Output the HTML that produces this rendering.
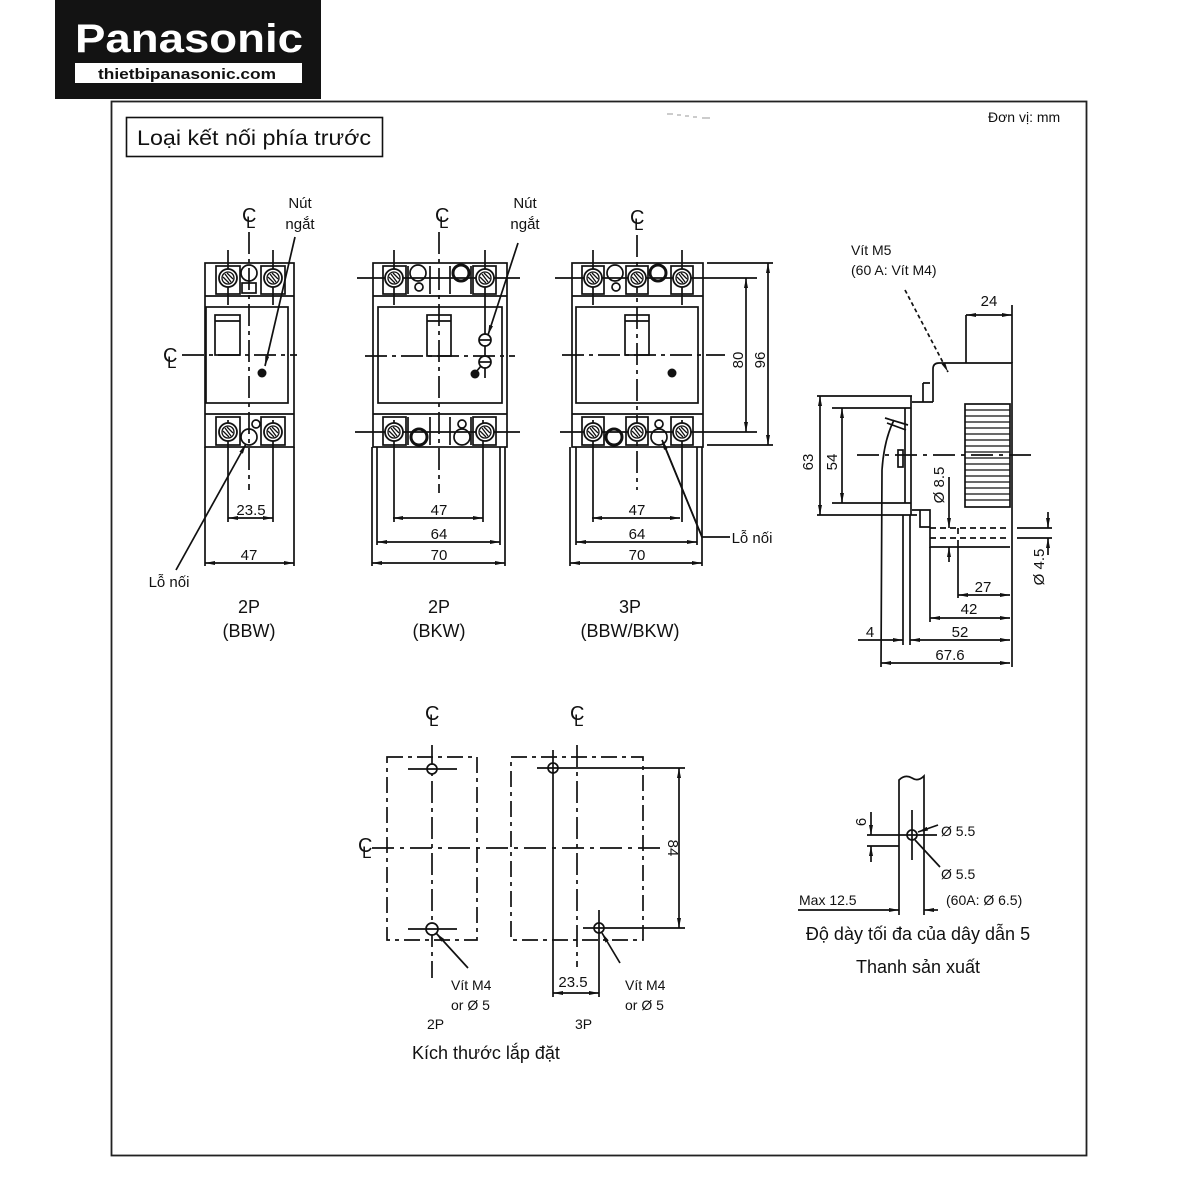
<!DOCTYPE html>
<html><head><meta charset="utf-8"><style>
html,body{margin:0;padding:0;background:#fff;}
svg{display:block;}
text{font-family:"Liberation Sans","DejaVu Sans",sans-serif;fill:#111;}
</style></head><body>
<svg width="1200" height="1200" viewBox="0 0 1200 1200" xmlns="http://www.w3.org/2000/svg">
<defs>
<marker id="a" viewBox="0 0 10 4" refX="10" refY="2" markerWidth="10" markerHeight="4" orient="auto-start-reverse" markerUnits="userSpaceOnUse"><path d="M0,0 L10,2 L0,4z" fill="#111"/></marker>
<g id="scr"><circle r="9" fill="#fff" stroke="#111" stroke-width="1.8"/><circle r="6" fill="none" stroke="#111" stroke-width="1.3"/><path d="M-3,-4 L3,4 M-5,-1 L1,5 M-1,-5 L5,1" stroke="#111" stroke-width="1.3"/></g>
<g id="cl"><text x="-7" y="0" font-size="20">C</text><text x="-3" y="6" font-size="17">L</text></g>
</defs>
<rect width="1200" height="1200" fill="#fff"/>
<!-- frame -->
<rect x="111.5" y="101.5" width="975" height="1054" fill="none" stroke="#222" stroke-width="1.8"/>
<!-- logo -->
<rect x="55" y="0" width="266" height="99" fill="#131313"/>
<text x="75" y="52" font-size="40" font-weight="bold" textLength="228" lengthAdjust="spacingAndGlyphs" style="fill:#fff">Panasonic</text>
<rect x="75" y="63" width="227" height="20" fill="#fff"/>
<text x="98" y="79" font-size="15" font-weight="bold" textLength="178" lengthAdjust="spacingAndGlyphs">thietbipanasonic.com</text>
<!-- title -->
<rect x="126.5" y="117.5" width="256" height="39" fill="none" stroke="#111" stroke-width="1.6"/>
<text x="137" y="145" font-size="21" textLength="234" lengthAdjust="spacingAndGlyphs">Loại kết nối phía trước</text>
<text x="988" y="122" font-size="14">Đơn vị: mm</text>
<path d="M667,114 h6 M677,115 h4 M685,116 h4 M693,117 h4 M702,118 h8" stroke="#999" stroke-width="1"/>

<g stroke="#111" fill="none" stroke-width="1.7">
<!-- ===== Breaker 1 (2P BBW) ===== -->
<rect x="205" y="263" width="89" height="184"/>
<line x1="205" y1="296" x2="294" y2="296"/>
<line x1="205" y1="414" x2="294" y2="414"/>
<rect x="216" y="266" width="24" height="28"/>
<rect x="261" y="266" width="24" height="28"/>
<rect x="216" y="417" width="24" height="28"/>
<rect x="261" y="417" width="24" height="28"/>
<rect x="206" y="307" width="82" height="96"/>
<rect x="215" y="315" width="25" height="40"/>
<line x1="215" y1="321" x2="240" y2="321"/>
<circle cx="249" cy="273" r="8" fill="#fff"/>
<rect x="242" y="283" width="14" height="10"/>
<circle cx="249" cy="437" r="8" fill="#fff"/>
<circle cx="256" cy="424" r="4"/>
<path d="M228,250 V305 M273,250 V305 M228,420 V522 M273,420 V522"/>
<path d="M249,232 V490" stroke-dasharray="22 5 4 5"/>
<path d="M182,355 H297" stroke-dasharray="22 5 4 5"/>
<!-- dims -->
<path d="M205,447 V566 M294,447 V566"/>
<line x1="228" y1="518" x2="273" y2="518" marker-start="url(#a)" marker-end="url(#a)"/>
<line x1="205" y1="563" x2="294" y2="563" marker-start="url(#a)" marker-end="url(#a)"/>
<line x1="176" y1="570" x2="246" y2="444" marker-end="url(#a)"/>
<line x1="295" y1="237" x2="265" y2="366" marker-end="url(#a)"/>

<!-- ===== Breaker 2 (2P BKW) ===== -->
<rect x="373" y="263" width="134" height="184"/>
<line x1="373" y1="296" x2="507" y2="296"/>
<line x1="373" y1="414" x2="507" y2="414"/>
<rect x="383" y="266" width="23" height="28"/>
<rect x="473" y="266" width="23" height="28"/>
<rect x="383" y="417" width="23" height="28"/>
<rect x="473" y="417" width="23" height="28"/>
<path d="M408,266 V294 M430,266 V294 M450,266 V294 M471,266 V294"/>
<path d="M408,417 V445 M430,417 V445 M450,417 V445 M471,417 V445"/>
<rect x="378" y="307" width="124" height="96"/>
<rect x="427" y="315" width="24" height="41"/>
<line x1="427" y1="321" x2="451" y2="321"/>
<circle cx="418" cy="273" r="8" fill="#fff"/>
<circle cx="419" cy="287" r="4"/>
<circle cx="461" cy="273" r="8" stroke-width="3"/>
<circle cx="419" cy="437" r="8" stroke-width="3"/>
<circle cx="462" cy="437" r="8" fill="#fff"/>
<circle cx="462" cy="424" r="4"/>
<path d="M357,278 H520 M355,432 H520"/>
<path d="M394,250 V305 M485,250 V378 M394,420 V522 M483,420 V522"/>
<circle cx="485" cy="340" r="6" fill="#fff"/><line x1="479" y1="340" x2="491" y2="340"/>
<circle cx="485" cy="362" r="6" fill="#fff"/><line x1="479" y1="362" x2="491" y2="362"/>
<path d="M439,232 V493" stroke-dasharray="22 5 4 5"/>
<path d="M365,356 H515" stroke-dasharray="22 5 4 5"/>
<path d="M372,447 V566 M505,447 V566 M377,447 V545 M500,447 V545"/>
<line x1="393" y1="518" x2="483" y2="518" marker-start="url(#a)" marker-end="url(#a)"/>
<line x1="377" y1="542" x2="500" y2="542" marker-start="url(#a)" marker-end="url(#a)"/>
<line x1="372" y1="563" x2="505" y2="563" marker-start="url(#a)" marker-end="url(#a)"/>
<line x1="518" y1="243" x2="488" y2="335" marker-end="url(#a)"/>
<line x1="481" y1="366" x2="476" y2="372"/>

<!-- ===== Breaker 3 (3P) ===== -->
<rect x="572" y="263" width="131" height="184"/>
<line x1="572" y1="296" x2="703" y2="296"/>
<line x1="572" y1="414" x2="703" y2="414"/>
<rect x="582" y="266" width="22" height="28"/>
<rect x="626" y="266" width="22" height="28"/>
<rect x="671" y="266" width="22" height="28"/>
<rect x="582" y="417" width="22" height="28"/>
<rect x="626" y="417" width="22" height="28"/>
<rect x="671" y="417" width="22" height="28"/>
<rect x="576" y="307" width="122" height="96"/>
<rect x="625" y="315" width="24" height="40"/>
<line x1="625" y1="321" x2="649" y2="321"/>
<circle cx="615" cy="273" r="8" fill="#fff"/>
<circle cx="616" cy="287" r="4"/>
<circle cx="658" cy="273" r="8" stroke-width="3"/>
<circle cx="614" cy="437" r="8" stroke-width="3"/>
<circle cx="659" cy="437" r="8" fill="#fff"/>
<circle cx="659" cy="424" r="4"/>
<path d="M555,278 H757 M560,432 H757"/>
<path d="M593,250 V305 M682,250 V305 M593,420 V522 M682,420 V522"/>
<path d="M637,235 V490" stroke-dasharray="22 5 4 5"/>
<path d="M562,355 H725" stroke-dasharray="22 5 4 5"/>
<path d="M707,263 H773 M707,445 H773"/>
<line x1="746" y1="278" x2="746" y2="432" marker-start="url(#a)" marker-end="url(#a)"/>
<line x1="768" y1="263" x2="768" y2="445" marker-start="url(#a)" marker-end="url(#a)"/>
<path d="M570,447 V566 M702,447 V566 M576,447 V545 M697,447 V545"/>
<line x1="592" y1="518" x2="680" y2="518" marker-start="url(#a)" marker-end="url(#a)"/>
<line x1="576" y1="542" x2="697" y2="542" marker-start="url(#a)" marker-end="url(#a)"/>
<line x1="570" y1="563" x2="702" y2="563" marker-start="url(#a)" marker-end="url(#a)"/>
<path d="M730,537 H702 L663,442"/>
<line x1="702" y1="537" x2="662" y2="440" marker-end="url(#a)"/>

<!-- ===== Side view ===== -->
<path d="M933,402 V369 Q933,363 939,363 H1012 V667"/>
<path d="M912,402 H933 M923,383 V402 M923,383 H930"/>
<path d="M817,396 H912 M832,408 H911 M911,396 V515 M905,408 V503 M832,503 H911 M817,515 H917"/>
<path d="M894,420 Q884,440 882,470 L881,667"/>
<path d="M885,418 L908,425 M887,423 L906,430"/>
<rect x="898" y="450" width="5" height="17"/>
<rect x="965" y="404" width="45" height="103"/>
<path d="M965,410 H1010 M965,416 H1010 M965,422 H1010 M965,428 H1010 M965,434 H1010 M965,440 H1010 M965,446 H1010 M965,452 H1010 M965,458 H1010 M965,464 H1010 M965,470 H1010 M965,476 H1010 M965,482 H1010 M965,488 H1010 M965,494 H1010 M965,500 H1010" stroke-width="1.3"/>
<path d="M912,510 H930 V547 H1010 M920,510 V527 H930"/>
<path d="M930,528 H1010 M930,538 H1010 M958,528 V538" stroke-dasharray="6 4"/>
<path d="M1017,528 H1052 M1017,538 H1052"/>
<path d="M857,455 H1037" stroke-dasharray="22 6 4 6"/>
<path d="M966,315 V363"/>
<line x1="966" y1="315" x2="1012" y2="315" marker-start="url(#a)" marker-end="url(#a)"/>
<path d="M1012,305 V363"/>
<line x1="905" y1="290" x2="948" y2="372" stroke-dasharray="4 3" marker-end="url(#a)"/>
<line x1="820" y1="396" x2="820" y2="515" marker-start="url(#a)" marker-end="url(#a)"/>
<line x1="842" y1="408" x2="842" y2="503" marker-start="url(#a)" marker-end="url(#a)"/>
<line x1="949" y1="477" x2="949" y2="528" marker-end="url(#a)"/>
<line x1="949" y1="562" x2="949" y2="547" marker-end="url(#a)"/>
<line x1="1048" y1="512" x2="1048" y2="528" marker-end="url(#a)"/>
<line x1="1048" y1="555" x2="1048" y2="538" marker-end="url(#a)"/>
<path d="M958,540 V598 M930,547 V622 M903,515 V645 M910,515 V645"/>
<line x1="958" y1="595" x2="1010" y2="595" marker-start="url(#a)" marker-end="url(#a)"/>
<line x1="930" y1="618" x2="1010" y2="618" marker-start="url(#a)" marker-end="url(#a)"/>
<line x1="910" y1="640" x2="1010" y2="640" marker-start="url(#a)" marker-end="url(#a)"/>
<line x1="858" y1="640" x2="903" y2="640" marker-end="url(#a)"/>
<line x1="881" y1="663" x2="1010" y2="663" marker-start="url(#a)" marker-end="url(#a)"/>

<!-- ===== Mounting ===== -->
<rect x="387" y="757" width="90" height="183" stroke-dasharray="16 5 4 5"/>
<rect x="511" y="757" width="132" height="183" stroke-dasharray="16 5 4 5"/>
<path d="M432,745 V978" stroke-dasharray="22 5 4 5"/>
<path d="M577,745 V967" stroke-dasharray="22 5 4 5"/>
<path d="M372,848 H660" stroke-dasharray="22 6 4 6"/>
<circle cx="432" cy="769" r="5" fill="#fff"/>
<circle cx="432" cy="929" r="6" fill="#fff"/>
<path d="M408,769 H457 M408,929 H457"/>
<circle cx="553" cy="768" r="5" fill="#fff"/>
<circle cx="599" cy="928" r="5" fill="#fff"/>
<path d="M537,768 H685 M553,750 V997 M583,928 H685 M599,910 V997"/>
<line x1="679" y1="768" x2="679" y2="928" marker-start="url(#a)" marker-end="url(#a)"/>
<line x1="553" y1="993" x2="599" y2="993" marker-start="url(#a)" marker-end="url(#a)"/>
<line x1="468" y1="968" x2="436" y2="933" marker-end="url(#a)"/>
<line x1="620" y1="963" x2="602" y2="933" marker-end="url(#a)"/>

<!-- ===== Bus bar ===== -->
<path d="M899,915 V780 Q905,774 912,778 Q918,782 924,776 V915"/>
<circle cx="912" cy="835" r="5" fill="#fff"/>
<path d="M912,810 V860 M867,835 H937 M867,846 H899"/>
<line x1="871" y1="812" x2="871" y2="835" marker-end="url(#a)"/>
<line x1="871" y1="862" x2="871" y2="846" marker-end="url(#a)"/>
<line x1="938" y1="825" x2="918" y2="832" marker-end="url(#a)"/>
<line x1="940" y1="867" x2="915" y2="840"/>
<line x1="798" y1="910" x2="899" y2="910" marker-end="url(#a)"/>
<line x1="938" y1="910" x2="924" y2="910" marker-end="url(#a)"/>
</g>

<!-- screws -->
<use href="#scr" x="228" y="278"/><use href="#scr" x="273" y="278"/>
<use href="#scr" x="228" y="432"/><use href="#scr" x="273" y="432"/>
<use href="#scr" x="394" y="278"/><use href="#scr" x="485" y="278"/>
<use href="#scr" x="394" y="432"/><use href="#scr" x="485" y="432"/>
<use href="#scr" x="593" y="278"/><use href="#scr" x="637" y="278"/><use href="#scr" x="682" y="278"/>
<use href="#scr" x="593" y="432"/><use href="#scr" x="637" y="432"/><use href="#scr" x="682" y="432"/>
<circle cx="262" cy="373" r="4.5" fill="#111"/>
<circle cx="475" cy="374" r="4.5" fill="#111"/>
<circle cx="672" cy="373" r="4.5" fill="#111"/>

<!-- CL symbols -->
<use href="#cl" x="249" y="222"/>
<use href="#cl" x="442" y="222"/>
<use href="#cl" x="637" y="224"/>
<use href="#cl" x="170" y="362"/>
<use href="#cl" x="432" y="720"/>
<use href="#cl" x="577" y="720"/>
<use href="#cl" x="365" y="852"/>

<!-- labels -->
<g font-size="15" text-anchor="middle">
<text x="300" y="208">Nút</text><text x="300" y="229">ngắt</text>
<text x="525" y="208">Nút</text><text x="525" y="229">ngắt</text>
<text x="251" y="515">23.5</text>
<text x="249" y="560">47</text>
<text x="439" y="515">47</text>
<text x="439" y="539">64</text>
<text x="439" y="560">70</text>
<text x="637" y="515">47</text>
<text x="637" y="539">64</text>
<text x="637" y="560">70</text>
<text x="169" y="587">Lỗ nối</text>
<text x="752" y="543">Lỗ nối</text>
<text x="989" y="306">24</text>
<text x="983" y="592">27</text>
<text x="969" y="614">42</text>
<text x="960" y="637">52</text>
<text x="870" y="637">4</text>
<text x="950" y="660">67.6</text>
<text x="573" y="987">23.5</text>
</g>
<g font-size="18" text-anchor="middle">
<text x="249" y="613">2P</text><text x="249" y="637">(BBW)</text>
<text x="439" y="613">2P</text><text x="439" y="637">(BKW)</text>
<text x="630" y="613">3P</text><text x="630" y="637">(BBW/BKW)</text>
</g>
<g font-size="15" text-anchor="middle">
<text transform="translate(743,360) rotate(-90)">80</text>
<text transform="translate(765,360) rotate(-90)">96</text>
<text transform="translate(813,462) rotate(-90)">63</text>
<text transform="translate(837,462) rotate(-90)">54</text>
<text transform="translate(944,485) rotate(-90)">Ø 8.5</text>
<text transform="translate(1044,567) rotate(-90)">Ø 4.5</text>
<text transform="translate(668,848) rotate(90)">84</text>
<text transform="translate(866,822) rotate(-90)">6</text>
</g>
<g font-size="14">
<text x="851" y="255">Vít M5</text>
<text x="851" y="275">(60 A: Vít M4)</text>
<text x="451" y="990">Vít M4</text>
<text x="451" y="1010">or Ø 5</text>
<text x="625" y="990">Vít M4</text>
<text x="625" y="1010">or Ø 5</text>
<text x="427" y="1029">2P</text>
<text x="575" y="1029">3P</text>
<text x="941" y="836">Ø 5.5</text>
<text x="941" y="879">Ø 5.5</text>
<text x="799" y="905">Max 12.5</text>
<text x="946" y="905">(60A: Ø 6.5)</text>
</g>
<text x="412" y="1059" font-size="18">Kích thước lắp đặt</text>
<text x="918" y="940" font-size="18" text-anchor="middle">Độ dày tối đa của dây dẫn 5</text>
<text x="918" y="973" font-size="18" text-anchor="middle">Thanh sản xuất</text>
</svg>
</body></html>
